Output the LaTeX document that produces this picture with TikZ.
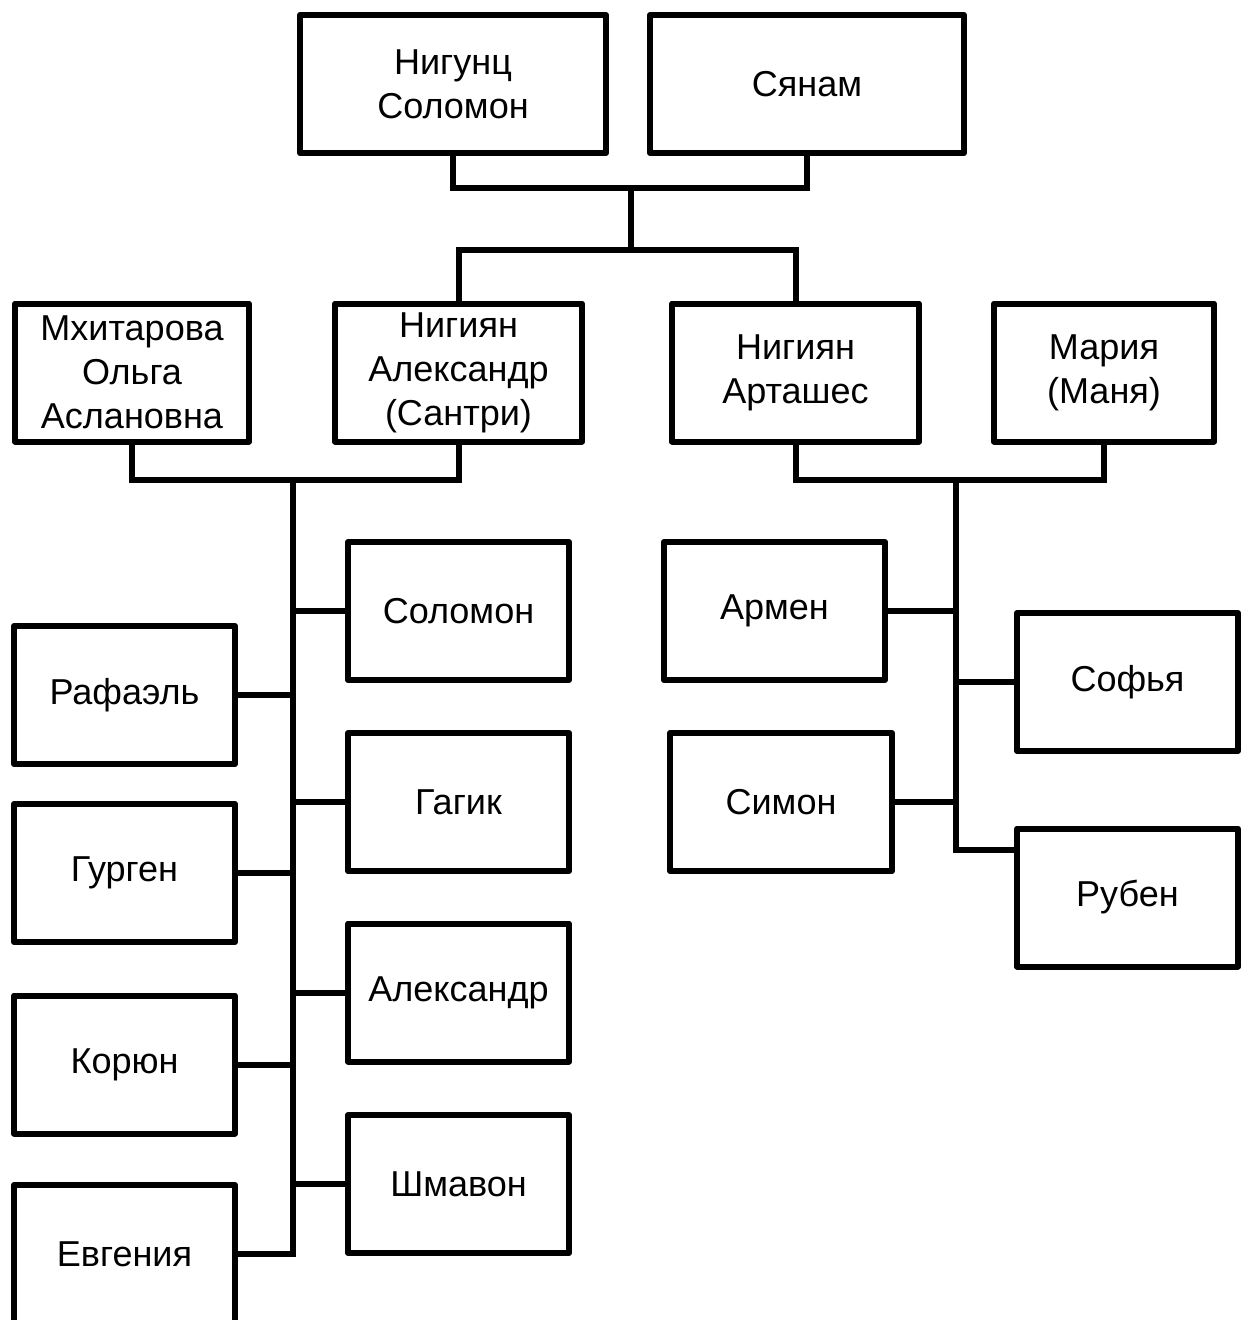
\documentclass[tikz,border=0pt]{standalone}
\usepackage{fontspec}
\setmainfont{Liberation Sans}
\begin{document}
\begin{tikzpicture}
\tikzstyle{link} = [line width = 0.12cm, -]
\tikzstyle{person} = [rectangle, draw = black, line width = 0.12cm, line join = round, minimum width = 4.42cm, minimum height = 2.76cm, inner sep = 0pt, align = center, font = \fontsize{20.5}{25}\selectfont]
\useasboundingbox (0,0) rectangle (25.02,-26.4);
% parents
\node[person, minimum width = 6.12cm](nigunc) at (9.06,-1.68){Нигунц\\Соломон};
\node[person, minimum width = 6.28cm, right of = nigunc, xshift = 6.08cm](syanam){Сянам};
% children and their wives
\node[person, minimum width = 4.94cm, below of = nigunc, xshift = 0.11cm, yshift = -4.77cm](santri){Нигиян\\Александр\\(Сантри)};
\node[person, minimum width = 4.68cm, left of = santri, xshift = -5.53cm](olga){Мхитарова\\Ольга\\Аслановна};
\node[person, minimum width = 4.94cm, right of = santri, xshift = 5.74cm](artashes){Нигиян\\Арташес};
\node[person, minimum width = 4.40cm, right of = artashes, xshift = 5.17cm](mariya){Мария\\(Маня)};
% grandchildren (Santri)
\node[person, below of = santri, yshift = -3.77cm](solomon){Соломон};
\node[person, below of = solomon, yshift = -2.82cm](gagik){Гагик};
\node[person, below of = gagik, yshift = -2.81cm](aleksandr){Александр};
\node[person, below of = aleksandr, yshift = -2.83cm](shmavon){Шмавон};
\node[person, left of = solomon, xshift = -5.68cm, yshift = -1.68cm](rafael){Рафаэль};
\node[person, below of = rafael, yshift = -2.56cm](gurgen){Гурген};
\node[person, below of = gurgen, yshift = -2.83cm](koryun){Корюн};
\node[person, below of = koryun, yshift = -2.79cm](evgeniya){Евгения};
% grandchildren (Artashes)
\node[person, right of = solomon, xshift = 5.32cm](armen){Армен};
\node[person, minimum width = 4.44cm, below of = armen, xshift = 0.13cm, yshift = -2.82cm](simon){Симон};
\node[person, right of = armen, xshift = 6.06cm, yshift = -1.42cm](sofya){Софья};
\node[person, below of = sofya, yshift = -3.31cm](ruben){Рубен};
% junctions
\coordinate (topbar) at (12.62,-3.76);
\coordinate (topsplit) at (12.62,-5.0);
\coordinate (lbar) at (5.86,-9.6);
\coordinate (rbar) at (19.12,-9.6);
\draw[link] (nigunc.south) |- (topbar) -| (syanam.south);
\draw[link] (topbar) -- (topsplit);
\draw[link] (santri.north) |- (topsplit) -| (artashes.north);
\draw[link] (olga.south) |- (lbar) -| (santri.south);
\draw[link] (artashes.south) |- (rbar) -| (mariya.south);
\draw[link] (lbar) |- (evgeniya);
\draw[link] (solomon) -- (solomon -| lbar);
\draw[link] (rafael) -- (rafael -| lbar);
\draw[link] (gagik) -- (gagik -| lbar);
\draw[link] (gurgen) -- (gurgen -| lbar);
\draw[link] (aleksandr) -- (aleksandr -| lbar);
\draw[link] (koryun) -- (koryun -| lbar);
\draw[link] (shmavon) -- (shmavon -| lbar);
\draw[link] (rbar) |- ([yshift = 0.95cm]ruben.west);
\draw[link] (armen) -- (armen -| rbar);
\draw[link] (simon) -- (simon -| rbar);
\draw[link] (sofya) -- (sofya -| rbar);
\end{tikzpicture}
\end{document}
